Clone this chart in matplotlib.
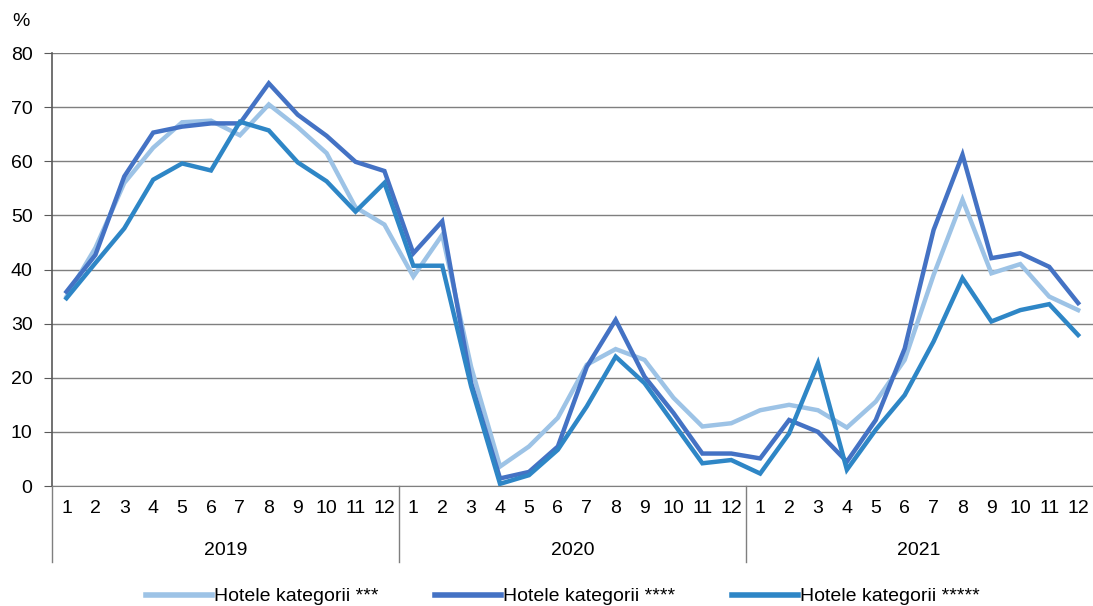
import matplotlib
matplotlib.use("Agg")
import matplotlib.pyplot as plt
import matplotlib.transforms as mtransforms
from matplotlib.lines import Line2D

years = ["2019", "2020", "2021"]
months = [str(m) for m in range(1, 13)]

hotels_3 = [35.0, 44.0, 56.0, 62.5, 67.2, 67.5, 64.8, 70.5, 66.3, 61.5, 51.5, 48.3,
            38.7, 46.4, 22.0, 3.6, 7.3, 12.6, 22.4, 25.3, 23.3, 16.3, 11.0, 11.6,
            14.0, 15.0, 14.0, 10.8, 15.6, 23.3, 39.0, 52.9, 39.3, 41.0, 35.0, 32.5]
hotels_4 = [35.9, 42.7, 57.2, 65.3, 66.4, 67.0, 67.0, 74.4, 68.6, 64.7, 59.9, 58.2,
            43.0, 48.9, 19.0, 1.4, 2.6, 7.3, 22.0, 30.7, 20.2, 13.5, 6.0, 6.0,
            5.1, 12.2, 10.0, 4.5, 12.2, 25.4, 47.3, 61.2, 42.1, 43.0, 40.5, 33.8]
hotels_5 = [34.7, 41.2, 47.6, 56.6, 59.6, 58.3, 67.3, 65.7, 59.8, 56.3, 50.7, 56.0,
            40.7, 40.7, 18.4, 0.4, 2.0, 6.7, 14.7, 23.9, 19.0, 11.6, 4.2, 4.8,
            2.3, 9.7, 22.7, 3.0, 10.4, 16.8, 26.7, 38.4, 30.4, 32.5, 33.6, 27.9]

series_names = ["Hotele kategorii ***", "Hotele kategorii ****", "Hotele kategorii *****"]
colors = ["#9DC3E6", "#4472C4", "#2E86C6"]

plt.rcParams['font.family'] = ['Liberation Sans', 'DejaVu Sans']
FS = 14

fig = plt.figure(figsize=(10.93, 6.06), dpi=100)
ax = fig.add_axes([0.0476, 0.198, 0.952, 0.7145])

n = len(hotels_3)
x = list(range(n))
for vals, c, name in zip([hotels_3, hotels_4, hotels_5], colors, series_names):
    ax.plot(x, vals, color=c, lw=3.2, label=name, solid_joinstyle='miter', zorder=3)

ax.set_xlim(-0.5, n - 0.5)
ax.set_ylim(0, 80)
ax.set_yticks(range(0, 81, 10))
ax.yaxis.grid(True, color="#7f7f7f", lw=1)
ax.set_axisbelow(True)
for s in ["top", "right"]:
    ax.spines[s].set_visible(False)
ax.spines["left"].set_color("#595959")
ax.spines["bottom"].set_color("#7f7f7f")
ax.spines["left"].set_linewidth(1.2)
ax.tick_params(axis="y", length=6, color="#595959", pad=8, labelsize=FS)
ax.set_xticks(x)
ax.set_xticklabels(months * len(years))
ax.tick_params(axis="x", length=0, pad=10, labelsize=FS)

trans = mtransforms.blended_transform_factory(ax.transData, ax.transAxes)
for b in [-0.5, 11.5, 23.5]:
    ax.plot([b, b], [0, -0.175], transform=trans, color="#7f7f7f", lw=1, clip_on=False)
for i, yr in enumerate(years):
    ax.text(5.5 + 12 * i, -0.148, yr, transform=trans, ha="center", va="center", fontsize=FS)

ax.text(-0.038, 1.073, "%", transform=ax.transAxes, ha="left", va="center", fontsize=FS)

handles = [Line2D([0], [0], color=c, lw=4) for c in colors]
fig.legend(handles, series_names, loc="lower center", bbox_to_anchor=(0.515, -0.028),
           ncol=3, frameon=False, handlelength=3.4, handletextpad=0.1, columnspacing=2.9,
           fontsize=FS)

fig.savefig("out.png", dpi=100)
